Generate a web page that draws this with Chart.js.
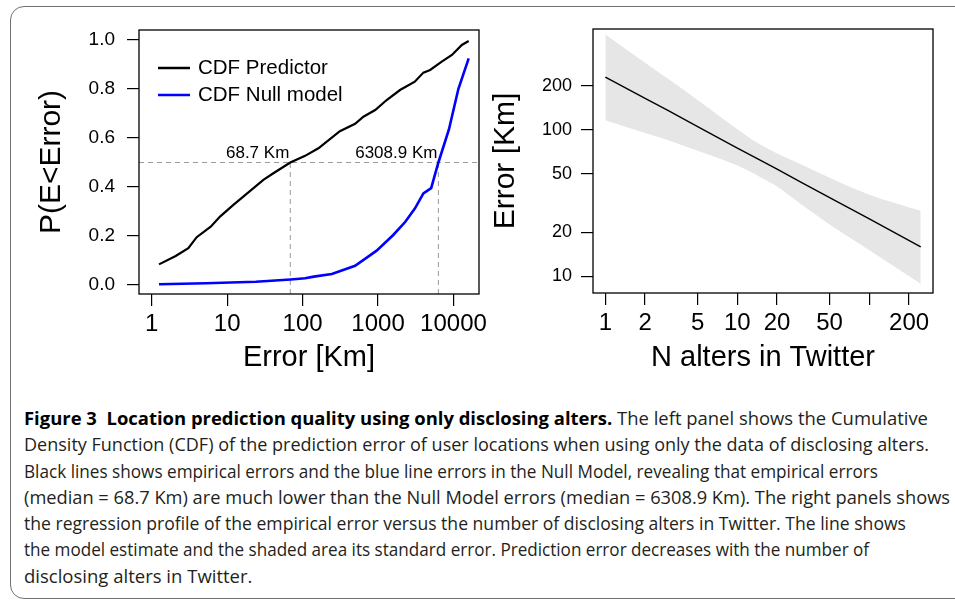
<!DOCTYPE html>
<html>
<head>
<meta charset="utf-8">
<script src="https://cdn.jsdelivr.net/npm/chart.js@4.4.1/dist/chart.umd.min.js"></script>
<style>
html, body { margin: 0; padding: 0; background: #fff; }
body { width: 955px; height: 600px; overflow: hidden; position: relative; }
#frame { position: absolute; left: 10px; top: 6px; width: 990px; height: 593px; border: 1.3px solid #707070; border-radius: 14px; box-sizing: border-box; }
#left { position: absolute; left: 0; top: 0; }
#right { position: absolute; left: 480px; top: 0; }
#caption { position: absolute; left: 24px; top: 405px; font-family: "Open Sans", sans-serif; font-size: 17.5px; line-height: 26.3px; color: #231f20; }
#caption .ln { white-space: nowrap; width: max-content; transform-origin: 0 0; }
#caption b { color: #000; }
</style>
</head>
<body>
<div id="frame"></div>
<canvas id="left" width="495" height="390"></canvas>
<canvas id="right" width="475" height="390"></canvas>
<div id="caption">
<div class="ln"><b>Figure 3&nbsp; Location prediction quality using only disclosing alters.</b> The left panel shows the Cumulative</div>
<div class="ln">Density Function (CDF) of the prediction error of user locations when using only the data of disclosing alters.</div>
<div class="ln">Black lines shows empirical errors and the blue line errors in the Null Model, revealing that empirical errors</div>
<div class="ln">(median = 68.7 Km) are much lower than the Null Model errors (median = 6308.9 Km). The right panels shows</div>
<div class="ln">the regression profile of the empirical error versus the number of disclosing alters in Twitter. The line shows</div>
<div class="ln">the model estimate and the shaded area its standard error. Prediction error decreases with the number of</div>
<div class="ln">disclosing alters in Twitter.</div>
</div>
<script>
// left panel: CDF of prediction error
const predErrorKm = [1.25, 2.08, 3.06, 3.95, 6.06, 8.05, 12.1, 17.3, 30.2, 41, 68.7, 108, 162, 312, 497, 640, 916, 1302, 1955, 3070, 3990, 4900, 6990, 9530, 12900, 15900];
const predCdf = [0.084, 0.118, 0.150, 0.195, 0.238, 0.279, 0.327, 0.367, 0.429, 0.456, 0.5, 0.527, 0.558, 0.628, 0.658, 0.687, 0.714, 0.755, 0.796, 0.830, 0.867, 0.878, 0.912, 0.939, 0.980, 0.996];
const nullErrorKm = [1.25, 5.2, 24, 69.6, 108, 141, 244, 497, 958, 1590, 2300, 3090, 3990, 5060, 6309, 8700, 11600, 15900];
const nullCdf = [0.003, 0.007, 0.013, 0.022, 0.027, 0.034, 0.045, 0.078, 0.14, 0.204, 0.258, 0.313, 0.374, 0.395, 0.5, 0.635, 0.80, 0.925];
const medianKm = [68.7, 6308.9];
const medianLabels = ['68.7 Km', '6308.9 Km'];
const seriesNames = ['CDF Predictor', 'CDF Null model'];
const leftXTicks = [1, 10, 100, 1000, 10000];
const leftYTicks = [0, 0.2, 0.4, 0.6, 0.8, 1.0];

// right panel: regression profile, fit and standard error band
const nAlters = [1, 2, 3, 5, 10, 15, 20, 30, 50, 100, 245];
const errFit = [229, 164, 135, 105, 75, 61.8, 54, 44.2, 34.5, 24.7, 15.9];
const errUpper = [448, 287, 222, 160, 101, 79, 69, 58.5, 47, 36, 28];
const errLower = [116, 95, 85, 72, 57, 47.5, 41, 31.3, 22.6, 15.1, 8.9];
const rightXTicks = [1, 2, 5, 10, 20, 50, 100, 200];
const rightYTicks = [10, 20, 50, 100, 200];

const FONT = '"Liberation Sans", Arial, Helvetica, sans-serif';
const xy = (xs, ys) => xs.map((x, i) => ({x: x, y: ys[i]}));

// axis limits (R style, padded)
const leftXMin = 0.679, leftXMax = 21780, leftYMin = -0.037, leftYMax = 1.041;
const rightXMin = 0.806, rightXMax = 303.5, rightYMin = 7.70, rightYMax = 487.5;

// draws the box around the plot region
const boxPlugin = {
    id: 'box',
    afterDraw(chart) {
        const a = chart.chartArea, ctx = chart.ctx;
        ctx.save();
        ctx.strokeStyle = '#000';
        ctx.lineWidth = 1.3;
        ctx.strokeRect(a.left, a.top, a.right - a.left, a.bottom - a.top);
        ctx.restore();
    }
};

// legend inside the plot, top left
const innerLegend = {
    id: 'innerLegend',
    afterDraw(chart) {
        const a = chart.chartArea, ctx = chart.ctx;
        ctx.save();
        ctx.font = '20.5px ' + FONT;
        ctx.textBaseline = 'middle';
        ctx.fillStyle = '#000';
        let row = 0;
        chart.data.datasets.forEach(ds => {
            if (!ds.label) return;
            const y = a.top + 38 + row * 27;
            ctx.strokeStyle = ds.borderColor;
            ctx.lineWidth = 2.5;
            ctx.beginPath();
            ctx.moveTo(a.left + 19, y);
            ctx.lineTo(a.left + 51, y);
            ctx.stroke();
            ctx.fillText(ds.label, a.left + 59, y);
            row++;
        });
        ctx.restore();
    }
};

// median annotations
const medianText = {
    id: 'medianText',
    afterDatasetsDraw(chart) {
        const ctx = chart.ctx;
        const yPix = chart.scales.y.getPixelForValue(0.5);
        ctx.save();
        ctx.font = '17px ' + FONT;
        ctx.fillStyle = '#000';
        ctx.textAlign = 'right';
        ctx.textBaseline = 'alphabetic';
        medianKm.forEach((m, i) => {
            ctx.fillText(medianLabels[i], chart.scales.x.getPixelForValue(m) - 1, yPix - 4);
        });
        ctx.restore();
    }
};

function guide(points) {
    return {data: points, borderColor: '#9a9a9a', borderWidth: 1, borderDash: [5, 4], pointRadius: 0, fill: false, order: 5};
}

function tickGrid() {
    return {drawOnChartArea: false, drawTicks: true, tickLength: 12, color: '#000', lineWidth: 1.2};
}

new Chart(document.getElementById('left'), {
    type: 'line',
    data: {
        datasets: [
            {label: seriesNames[0], data: xy(predErrorKm, predCdf), borderColor: '#000', borderWidth: 2.2, pointRadius: 0, fill: false, order: 1},
            {label: seriesNames[1], data: xy(nullErrorKm, nullCdf), borderColor: '#0000ff', borderWidth: 2.6, pointRadius: 0, fill: false, order: 2},
            guide([{x: leftXMin, y: 0.5}, {x: leftXMax, y: 0.5}]),
            ...medianKm.map(m => guide([{x: m, y: leftYMin}, {x: m, y: 0.5}]))
        ]
    },
    plugins: [boxPlugin, innerLegend, medianText],
    options: {
        responsive: false,
        animation: false,
        events: [],
        layout: {padding: {top: 30, right: 16, left: 0, bottom: 0}},
        plugins: {legend: {display: false}, tooltip: {enabled: false}},
        scales: {
            x: {
                type: 'logarithmic', min: leftXMin, max: leftXMax,
                afterBuildTicks: s => { s.ticks = leftXTicks.map(v => ({value: v})); },
                afterFit: s => { s.height = 96; },
                grid: tickGrid(),
                border: {display: false},
                ticks: {autoSkip: false, maxRotation: 0, padding: 4, color: '#000', font: {family: FONT, size: 24}, callback: v => String(v)},
                title: {display: true, text: 'Error [Km]', color: '#000', font: {family: FONT, size: 29}, padding: {top: 0, bottom: 14.6}}
            },
            y: {
                type: 'linear', min: leftYMin, max: leftYMax,
                afterBuildTicks: s => { s.ticks = leftYTicks.map(v => ({value: v})); },
                afterFit: s => { s.width = 139; },
                grid: tickGrid(),
                border: {display: false},
                ticks: {autoSkip: false, padding: 12, color: '#000', font: {family: FONT, size: 19}, callback: v => Number(v).toFixed(1)},
                title: {display: true, text: 'P(E<Error)', color: '#000', font: {family: FONT, size: 30}, padding: {top: 33.5, bottom: 0}}
            }
        }
    }
});

new Chart(document.getElementById('right'), {
    type: 'line',
    data: {
        datasets: [
            {data: xy(nAlters, errFit), borderColor: '#000', borderWidth: 1.4, pointRadius: 0, fill: false, order: 0},
            {data: xy(nAlters, errUpper), borderWidth: 0, borderColor: 'rgba(0,0,0,0)', backgroundColor: '#e6e6e6', pointRadius: 0, fill: '+1', cubicInterpolationMode: 'monotone', order: 1},
            {data: xy(nAlters, errLower), borderWidth: 0, borderColor: 'rgba(0,0,0,0)', pointRadius: 0, fill: false, cubicInterpolationMode: 'monotone', order: 2}
        ]
    },
    plugins: [boxPlugin],
    options: {
        responsive: false,
        animation: false,
        events: [],
        layout: {padding: {top: 29, right: 22, left: 0, bottom: 0}},
        plugins: {legend: {display: false}, tooltip: {enabled: false}},
        scales: {
            x: {
                type: 'logarithmic', min: rightXMin, max: rightXMax,
                afterBuildTicks: s => { s.ticks = rightXTicks.map(v => ({value: v})); },
                afterFit: s => { s.height = 97; },
                grid: tickGrid(),
                border: {display: false},
                ticks: {autoSkip: false, maxRotation: 0, padding: 4, color: '#000', font: {family: FONT, size: 24}, callback: v => (v === 100 ? '' : String(v))},
                title: {display: true, text: 'N alters in Twitter', color: '#000', font: {family: FONT, size: 29}, padding: {top: 0, bottom: 14.6}}
            },
            y: {
                type: 'logarithmic', min: rightYMin, max: rightYMax,
                afterBuildTicks: s => { s.ticks = rightYTicks.map(v => ({value: v})); },
                afterFit: s => { s.width = 113; },
                grid: tickGrid(),
                border: {display: false},
                ticks: {autoSkip: false, padding: 9, color: '#000', font: {family: FONT, size: 18}, callback: v => String(v)},
                title: {display: true, text: 'Error [Km]', color: '#000', font: {family: FONT, size: 30}, padding: {top: 8, bottom: 0}}
            }
        }
    }
});

// caption: squeeze each line toward its width in the figure, but keep all lines close to one common squeeze
const captionWidths = [904, 905, 854, 926, 882, 808, 276];
const lines = Array.from(document.querySelectorAll('#caption .ln'));
const natural = lines.map(el => el.getBoundingClientRect().width);
const ratios = natural.slice(0, 6).map((w, i) => captionWidths[i] / w);
const sorted = ratios.slice().sort((a, b) => a - b);
const squeeze = (sorted[2] + sorted[3]) / 2;
lines.forEach((el, i) => {
    let s = captionWidths[i] / natural[i];
    s = Math.min(Math.max(s, squeeze * 0.96), squeeze * 1.04);
    el.style.transform = 'scaleX(' + s.toFixed(4) + ')';
});
</script>
</body>
</html>
